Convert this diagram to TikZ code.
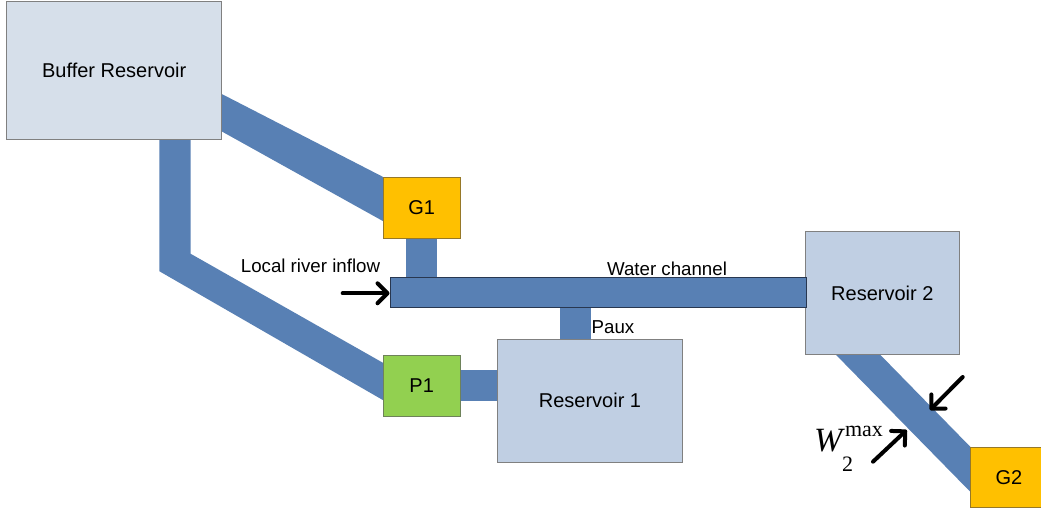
\documentclass[tikz,border=0pt]{standalone}
\usepackage{fontspec}
\setmainfont{Liberation Sans}
\newfontfamily\tms{Liberation Serif}
\usetikzlibrary{arrows.meta,calc,backgrounds}
\definecolor{pipeblue}{RGB}{88,128,180}
\definecolor{bufferfill}{RGB}{214,223,234}
\definecolor{resfill}{RGB}{192,207,227}
\definecolor{boxgray}{RGB}{128,128,128}
\definecolor{gyellow}{RGB}{255,192,0}
\definecolor{gborder}{RGB}{150,120,40}
\definecolor{pgreen}{RGB}{146,208,80}
\definecolor{pborder}{RGB}{110,130,90}
\definecolor{chborder}{RGB}{40,55,80}
\tikzset{
  box/.style={draw, inner sep=0pt, line width=1pt, font=\fontsize{20}{24}\selectfont},
  resbox/.style={box, fill=resfill, draw=boxgray},
  genbox/.style={box, fill=gyellow, draw=gborder, minimum width=76.7pt},
  pipe/.style={fill=pipeblue},
  pipeline/.style={draw=pipeblue, line width=31pt},
  lbl/.style={anchor=base, inner sep=0pt, font=\fontsize{18.7}{22}\selectfont},
  arr/.style={draw=black, line width=4pt, line cap=round, -{Straight Barb[length=10pt,width=20pt,round]}}
}
\begin{document}
\begin{tikzpicture}[x=1pt,y=-1pt]
\clip (0,0) rectangle (1041,513);
% boxes
\node[box, fill=bufferfill, draw=boxgray, minimum width=215pt, minimum height=137.6pt] (buffer) at (114.2,70.5) {Buffer Reservoir};
\node[genbox, minimum height=61.4pt] (g1) at (421.65,208) {G1};
\node[box, fill=pgreen, draw=pborder, minimum width=76.7pt, minimum height=61pt] (p1) at (421.65,385.5) {P1};
\node[resbox, minimum width=184.6pt, minimum height=123pt] (res1) at (590,400.5) {Reservoir 1};
\node[resbox, minimum width=153.3pt, minimum height=122.6pt] (res2) at (882.35,293) {Reservoir 2};
\node[genbox, minimum height=60.4pt] (g2) at (1009,477.5) {G2};
\node[draw=chborder, fill=pipeblue, line width=1pt, inner sep=0pt, minimum width=416pt, minimum height=30.4pt] (channel) at (598,292.5) {};
\coordinate (pauxx) at (575,0);
% pipes
\begin{scope}[on background layer]
\fill[white] (0,0) rectangle (1041,513);
\fill[pipe] ($(buffer.east)+(-3,22.2)$) -- (g1.north west) -- ($(g1.west)+(0,13)$) -- ($(buffer.east)+(-3,59.5)$) -- cycle;
\fill[pipe] ($(buffer.south)+(45.1,-2)$) -- ($(buffer.south)+(76.5,-2)$) -- ($(buffer.south)+(76.5,114)$)
  -- ($(p1.west)+(0,-22.8)$) -- ($(p1.west)+(0,14.5)$) -- ($(buffer.south)+(45.1,131.4)$) -- cycle;
\fill[pipe] ($(res2.south)+(-48.35,-2)$) -- ($(res2.south)+(-4.05,-2)$) -- ($(g2.west)+(2,-28.8)$) -- ($(g2.west)+(2,16.2)$) -- cycle;
\draw[pipeline] (g1.south) -- (g1.south |- channel.north);
\draw[pipeline] (res1.north -| pauxx) -- (channel.south -| pauxx);
\draw[pipeline] ([xshift=-2pt]p1.east) -- ([xshift=2pt]p1.east -| res1.west);
\end{scope}
% labels
\node[lbl] (inflowlbl) at (310.5,272.7) {Local river inflow};
\node[lbl] (chlbl) at (667,275.7) {Water channel};
\node[lbl] (pauxlbl) at (613,333.3) {Paux};
\node[anchor=base west, inner sep=0pt] (wmax) at (814,451.7) {\tms\fontsize{34}{36}\selectfont\textit{W}\kern-3pt\rlap{\hspace{3pt}\raisebox{15pt}{\fontsize{22}{22}\selectfont max}}\raisebox{-20pt}{\fontsize{22}{22}\selectfont 2}};
% arrows
\coordinate (inflowtail) at (342.7,293.3);
\draw[arr] (inflowtail) -- (inflowtail -| channel.west);
\coordinate (wa1) at (962.7,377);
\coordinate (wa2) at (930,410);
\draw[arr] (wa1) -- (wa2);
\coordinate (wb1) at (873,461.7);
\coordinate (wb2) at (906.7,430);
\draw[arr] (wb1) -- (wb2);
\end{tikzpicture}
\end{document}
